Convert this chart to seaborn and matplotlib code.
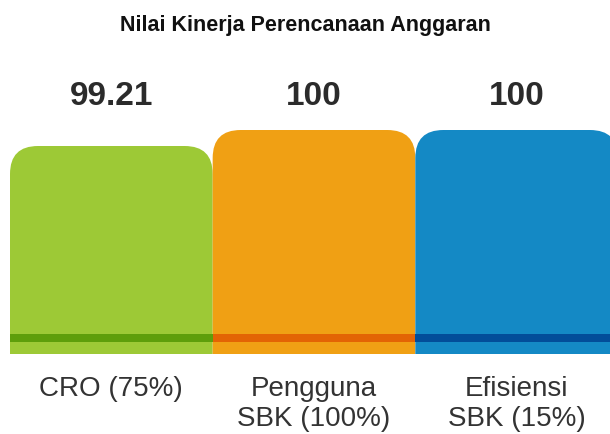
import matplotlib
matplotlib.use("Agg")
import matplotlib.pyplot as plt
import seaborn as sns
import pandas as pd
from matplotlib.patches import FancyBboxPatch, Rectangle
from matplotlib.transforms import IdentityTransform, blended_transform_factory

# data
categories = ["CRO (75%)", "Pengguna\nSBK (100%)", "Efisiensi\nSBK (15%)"]
values = [99.21, 100, 100]
value_labels = ["99.21", "100", "100"]
bar_colors = ["#9DC936", "#F0A014", "#1489C5"]
stripe_colors = ["#5E9E0B", "#E36404", "#024D99"]

df = pd.DataFrame({"kategori": categories, "nilai": values})

sns.set_style("white")
plt.rcParams["font.family"] = ["Liberation Sans", "DejaVu Sans"]

fig = plt.figure(figsize=(6.1, 4.34), dpi=100)
ax = fig.add_axes([10 / 610, 80 / 434, 608 / 610, 224 / 434])

sns.barplot(data=df, x="kategori", y="nilai", hue="kategori", palette=bar_colors,
            width=1.0, legend=False, ax=ax, saturation=1)
ax.set_ylim(88.94, 100)
ax.set_xlim(-0.5, 2.5)
fig.canvas.draw()

# ganti batang biasa dengan batang bersudut bulat (hanya atas)
bars = list(ax.patches)
for bar, col in zip(bars, bar_colors):
    bb = bar.get_window_extent()
    bar.set_visible(False)
    rp = FancyBboxPatch((bb.x0, bb.y0 - 40), bb.width, bb.height + 40,
                        boxstyle="round,pad=0,rounding_size=28",
                        transform=IdentityTransform(), facecolor=col,
                        edgecolor="none", zorder=2)
    rp.set_clip_path(ax.patch)
    ax.add_artist(rp)

# garis gelap di bawah
trans = blended_transform_factory(ax.transData, ax.transAxes)
for i, col in enumerate(stripe_colors):
    ax.add_patch(Rectangle((i - 0.5, 12 / 224), 1.0, 8 / 224, transform=trans,
                           facecolor=col, edgecolor="none", zorder=3))

# label nilai
vtrans = blended_transform_factory(ax.transData, fig.transFigure)
for i, lab in enumerate(value_labels):
    ax.text(i, (434 - 105) / 434, lab, transform=vtrans, ha="center", va="baseline",
            fontsize=24, fontweight="bold", color="#2b2b2b")

ax.set_xlabel("")
ax.set_ylabel("")
ax.set_yticks([])
ax.tick_params(axis="x", length=0, pad=16, labelsize=20, labelcolor="#333333")
for lbl in ax.get_xticklabels():
    lbl.set_verticalalignment("top")
sns.despine(ax=ax, left=True, bottom=True)

fig.text(0.5, (434 - 31) / 434, "Nilai Kinerja Perencanaan Anggaran", ha="center",
         va="baseline", fontsize=15.5, fontweight="bold", color="#111111")

fig.savefig("out.png", dpi=100)
